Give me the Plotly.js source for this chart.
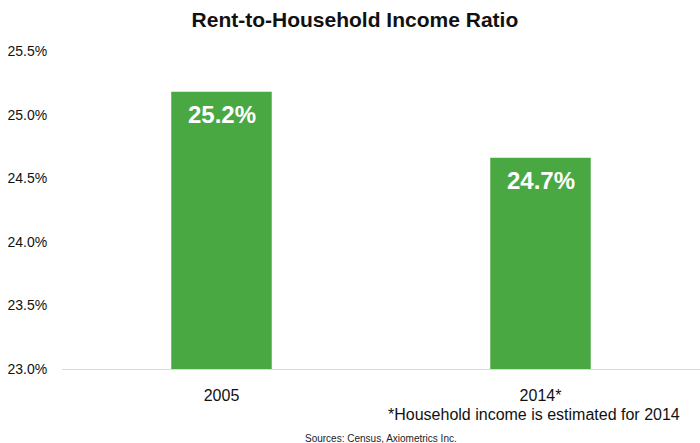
<!DOCTYPE html>
<html><head><meta charset="utf-8">
<script src="https://cdn.plot.ly/plotly-3.0.1.min.js"></script>
<style>html,body{margin:0;padding:0;background:#fff}#chart{width:700px;height:443px}</style>
</head><body><div id="chart"></div>
<script>
const categories = ["2005", "2014*"];
const ratioValues = [25.18, 24.66];
const tickValues = [23.0, 23.5, 24.0, 24.5, 25.0, 25.5];
const tickLabels = ["23.0%", "23.5%", "24.0%", "24.5%", "25.0%", "25.5%"];

const trace = {
  type: "bar",
  x: categories,
  y: ratioValues,
  width: 0.315,
  marker: {color: "#4aa842"},
  hoverinfo: "none"
};

const annotations = categories.map((c, i) => ({
  x: i, y: ratioValues[i], xref: "x", yref: "y",
  text: ratioValues[i].toFixed(1) + "%",
  showarrow: false, yanchor: "top", yshift: -7,
  font: {family: "Liberation Sans, Arial, sans-serif", size: 24, color: "#ffffff", weight: "bold"}
}));
annotations.push({
  xref: "paper", yref: "paper", x: 1, y: 0, xanchor: "right", yanchor: "top", yshift: -35, xshift: -18,
  text: "*Household income is estimated for 2014", showarrow: false,
  font: {family: "Liberation Sans, Arial, sans-serif", size: 16, color: "#111111"}
});
annotations.push({
  xref: "paper", yref: "paper", x: 0.5, y: 0, xanchor: "center", yanchor: "top", yshift: -62, xshift: 0,
  text: "Sources: Census, Axiometrics Inc.", showarrow: false,
  font: {family: "Liberation Sans, Arial, sans-serif", size: 10, color: "#222222"}
});

const layout = {
  width: 700, height: 443,
  margin: {l: 62, r: 0, t: 51, b: 74},
  paper_bgcolor: "#ffffff", plot_bgcolor: "#ffffff",
  showlegend: false,
  title: {
    text: "<b>Rent-to-Household Income Ratio</b>",
    x: 0.507, xanchor: "center", y: 0.955, yanchor: "middle",
    font: {family: "Liberation Sans, Arial, sans-serif", size: 21, color: "#111111"}
  },
  xaxis: {
    type: "category", range: [-0.5, 1.5],
    showgrid: false, zeroline: false,
    showline: true, linecolor: "#d9d9d9", linewidth: 1,
    ticks: "outside", ticklen: 12, tickcolor: "rgba(0,0,0,0)",
    tickfont: {family: "Liberation Sans, Arial, sans-serif", size: 16, color: "#111111"}
  },
  yaxis: {
    range: [23, 25.5],
    tickvals: tickValues, ticktext: tickLabels,
    showgrid: false, zeroline: false, showline: false,
    ticks: "outside", ticklen: 11, tickcolor: "rgba(0,0,0,0)",
    tickfont: {family: "Liberation Sans, Arial, sans-serif", size: 14, color: "#111111"}
  },
  annotations: annotations
};
Plotly.newPlot("chart", [trace], layout, {displayModeBar: false, staticPlot: true});
</script></body></html>
